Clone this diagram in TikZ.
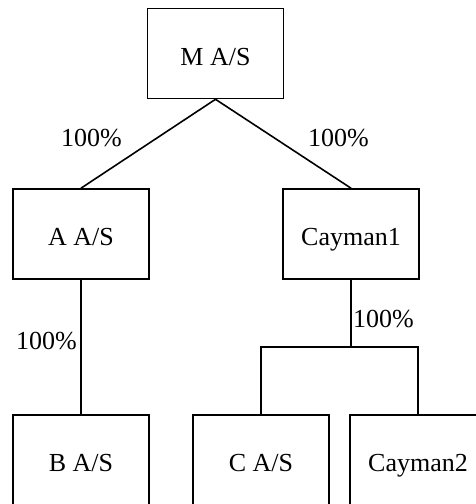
\documentclass[tikz,border=0pt]{standalone}
\usepackage{fontspec}
\setmainfont{Liberation Serif}
\usepackage{tikz}
\begin{document}
\begin{tikzpicture}[x=0.5pt, y=-0.5pt,
        entity/.style={draw, line width=0.8pt, minimum width=68pt, minimum height=45pt, inner sep=0pt, text height=11.5pt, text depth=0pt, font=\fontsize{13}{15}\selectfont},
        share/.style={inner sep=0pt, font=\fontsize{13}{15}\selectfont},
        link/.style={line width=0.8pt}]
        \useasboundingbox (0,0) rectangle (476,504);
        \clip (0,0) rectangle (476,504);
        % entities
        \node[entity] (m) at (215.5,53.5) {M A/S};
        \node[entity] (a) at (81,234) {A A/S};
        \node[entity] (cay1) at (351,234) {Cayman1};
        \node[entity] (b) at (81,460) {B A/S};
        \node[entity] (c) at (261,460) {C A/S};
        \node[entity] (cay2) at (418,460) {Cayman2};
        % ownership lines
        \coordinate (fork) at (351,347);
        \draw[link] (m.south) -- (a.north);
        \draw[link] (m.south) -- (cay1.north);
        \draw[link] (a.south) -- (b.north);
        \draw[link] (cay1.south) -- (fork);
        \draw[link] (c.north) |- (fork) -| (cay2.north);
        % shares
        \node[share] (sa) at (91.5,138) {100\%};
        \node[share] (scay1) at (338.5,138) {100\%};
        \node[share] (sb) at (46.5,341) {100\%};
        \node[share] (sc) at (383.5,319) {100\%};
    \end{tikzpicture}
\end{document}
